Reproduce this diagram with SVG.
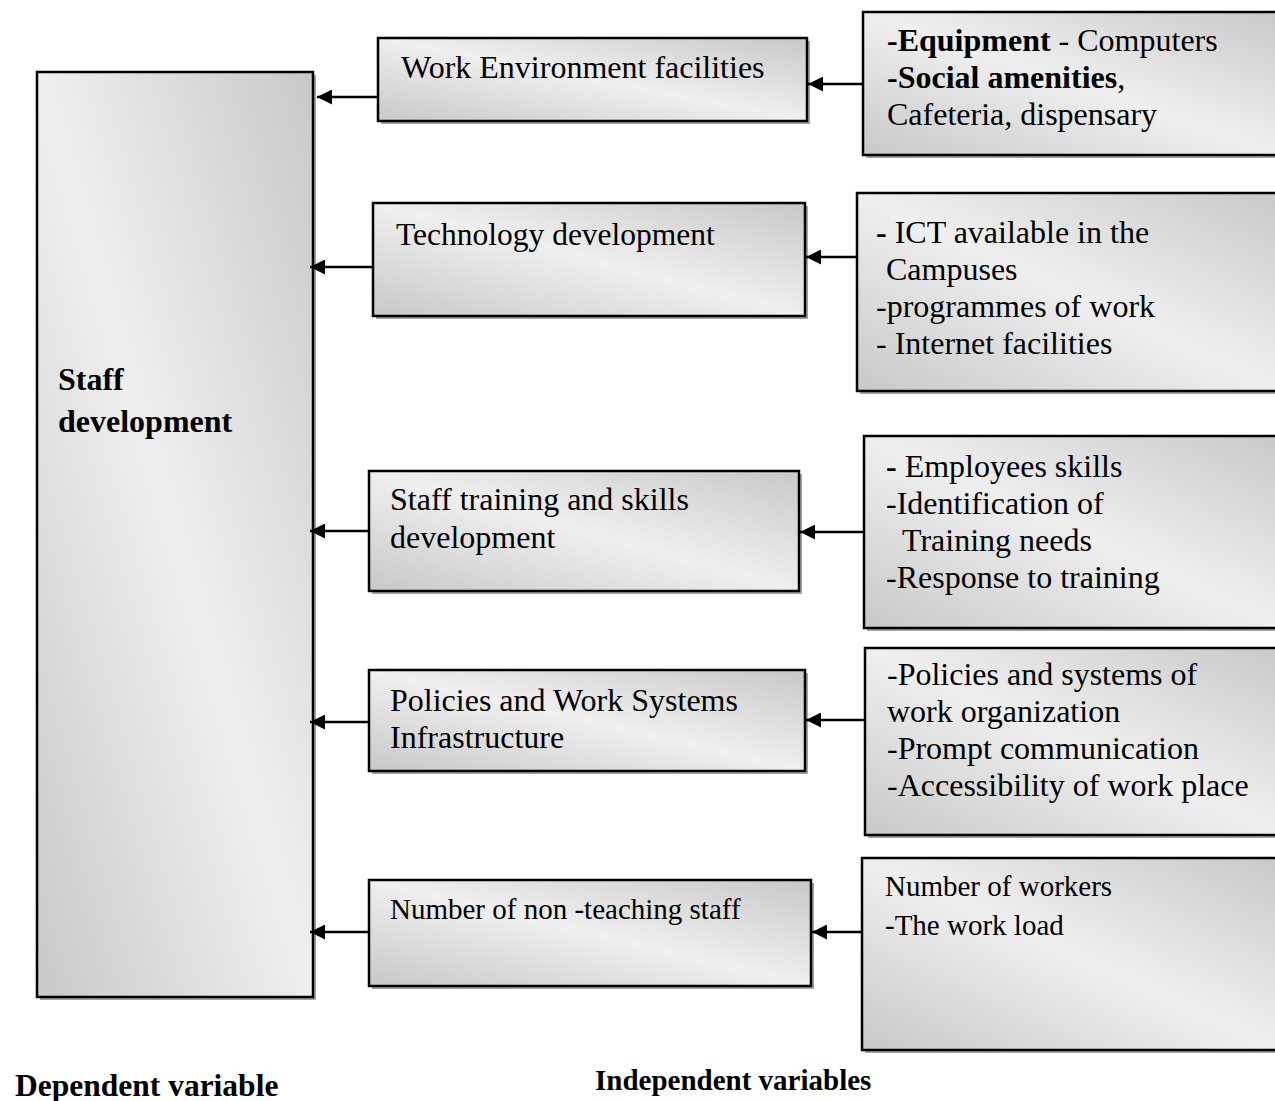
<svg xmlns="http://www.w3.org/2000/svg" width="1275" height="1101" viewBox="0 0 1275 1101">
  <defs>
    <!-- diagonal silver shading shared by every box -->
    <linearGradient id="silver" x1="1" y1="0" x2="0" y2="1">
      <stop offset="0" stop-color="#c8c8c8"/>
      <stop offset="0.5" stop-color="#efefef"/>
      <stop offset="1" stop-color="#c8c8c8"/>
    </linearGradient>
    <marker id="head" viewBox="0 0 14 14" refX="14" refY="7" markerWidth="15" markerHeight="15" markerUnits="userSpaceOnUse" orient="auto">
      <path d="M0,0 L14,7 L0,14 Z" fill="#000"/>
    </marker>
  </defs>
  <style>
    .shadow { fill: #a4a4a4; }
    .box { fill: url(#silver); stroke: #000; stroke-width: 2.5; }
    .t { font-family: "Liberation Serif", "Times New Roman", serif; font-size: 31.5px; fill: #000; }
    .s { font-family: "Liberation Serif", "Times New Roman", serif; font-size: 29px; fill: #000; }
    .b { font-weight: bold; }
    .big { font-size: 32px; }
    .link { stroke: #000; stroke-width: 2.5; fill: none; marker-end: url(#head); }
  </style>

  <rect width="1275" height="1101" fill="#fff"/>

  <!-- dependent variable -->
  <g id="staff-development">
    <rect class="shadow" x="40" y="75" width="276" height="925"/>
    <rect class="box" x="37" y="72" width="276" height="925"/>
    <text class="t b big" x="58" y="390">Staff</text>
    <text class="t b big" x="58" y="432">development</text>
  </g>

  <!-- intermediate factors -->
  <g id="work-environment">
    <rect class="shadow" x="381" y="41" width="429" height="83"/>
    <rect class="box" x="378" y="38" width="429" height="83"/>
    <text class="t big" x="401" y="78">Work Environment facilities</text>
  </g>
  <g id="technology">
    <rect class="shadow" x="376" y="206" width="432" height="113"/>
    <rect class="box" x="373" y="203" width="432" height="113"/>
    <text class="t" x="396" y="245">Technology development</text>
  </g>
  <g id="staff-training">
    <rect class="shadow" x="372" y="474" width="430" height="120"/>
    <rect class="box" x="369" y="471" width="430" height="120"/>
    <text class="t big" x="390" y="510">Staff training and skills</text>
    <text class="t big" x="390" y="548">development</text>
  </g>
  <g id="policies">
    <rect class="shadow" x="372" y="673" width="436" height="101"/>
    <rect class="box" x="369" y="670" width="436" height="101"/>
    <text class="t big" x="390" y="711">Policies and Work Systems</text>
    <text class="t big" x="390" y="748">Infrastructure</text>
  </g>
  <g id="non-teaching">
    <rect class="shadow" x="372" y="883" width="442" height="106"/>
    <rect class="box" x="369" y="880" width="442" height="106"/>
    <text class="s" x="390" y="919">Number of non -teaching staff</text>
  </g>

  <!-- indicators -->
  <g id="equipment">
    <rect class="shadow" x="866" y="15" width="420" height="143"/>
    <rect class="box" x="863" y="12" width="420" height="143"/>
    <text class="t big" x="887" y="51"><tspan class="b">-Equipment</tspan> - Computers</text>
    <text class="t big" x="887" y="88"><tspan class="b">-Social amenities</tspan>,</text>
    <text class="t big" x="887" y="125">Cafeteria, dispensary</text>
  </g>
  <g id="ict">
    <rect class="shadow" x="860" y="196" width="426" height="198"/>
    <rect class="box" x="857" y="193" width="426" height="198"/>
    <text class="t big" x="876" y="243"><tspan class="b">-</tspan> ICT available in the</text>
    <text class="t big" x="886" y="280">Campuses</text>
    <text class="t big" x="876" y="317">-programmes of work</text>
    <text class="t big" x="876" y="354">- Internet facilities</text>
  </g>
  <g id="skills">
    <rect class="shadow" x="867" y="439" width="420" height="192"/>
    <rect class="box" x="864" y="436" width="420" height="192"/>
    <text class="t big" x="886" y="477"><tspan class="b">-</tspan> Employees skills</text>
    <text class="t big" x="886" y="514">-Identification of</text>
    <text class="t big" x="902" y="551">Training needs</text>
    <text class="t big" x="886" y="588">-Response to training</text>
  </g>
  <g id="systems">
    <rect class="shadow" x="868" y="651" width="420" height="187"/>
    <rect class="box" x="865" y="648" width="420" height="187"/>
    <text class="t big" x="887" y="685">-Policies and systems of</text>
    <text class="t big" x="887" y="722">work organization</text>
    <text class="t big" x="887" y="759">-Prompt communication</text>
    <text class="t big" x="887" y="796">-Accessibility of work place</text>
  </g>
  <g id="workers">
    <rect class="shadow" x="865" y="861" width="420" height="192"/>
    <rect class="box" x="862" y="858" width="420" height="192"/>
    <text class="s" x="885" y="896">Number of workers</text>
    <text class="s" x="885" y="935">-The work load</text>
  </g>

  <!-- arrows -->
  <g id="connectors">
    <line class="link" x1="378" y1="97" x2="317" y2="97"/>
    <line class="link" x1="373" y1="267" x2="310" y2="267"/>
    <line class="link" x1="369" y1="531" x2="310" y2="531"/>
    <line class="link" x1="369" y1="722" x2="310" y2="722"/>
    <line class="link" x1="369" y1="932" x2="310" y2="932"/>
    <line class="link" x1="863" y1="84" x2="808" y2="84"/>
    <line class="link" x1="857" y1="257" x2="806" y2="257"/>
    <line class="link" x1="864" y1="532" x2="800" y2="532"/>
    <line class="link" x1="865" y1="720" x2="806" y2="720"/>
    <line class="link" x1="862" y1="932" x2="812" y2="932"/>
  </g>

  <!-- captions -->
  <text class="t b" x="15" y="1096">Dependent variable</text>
  <text class="s b" x="595" y="1090">Independent variables</text>
</svg>
